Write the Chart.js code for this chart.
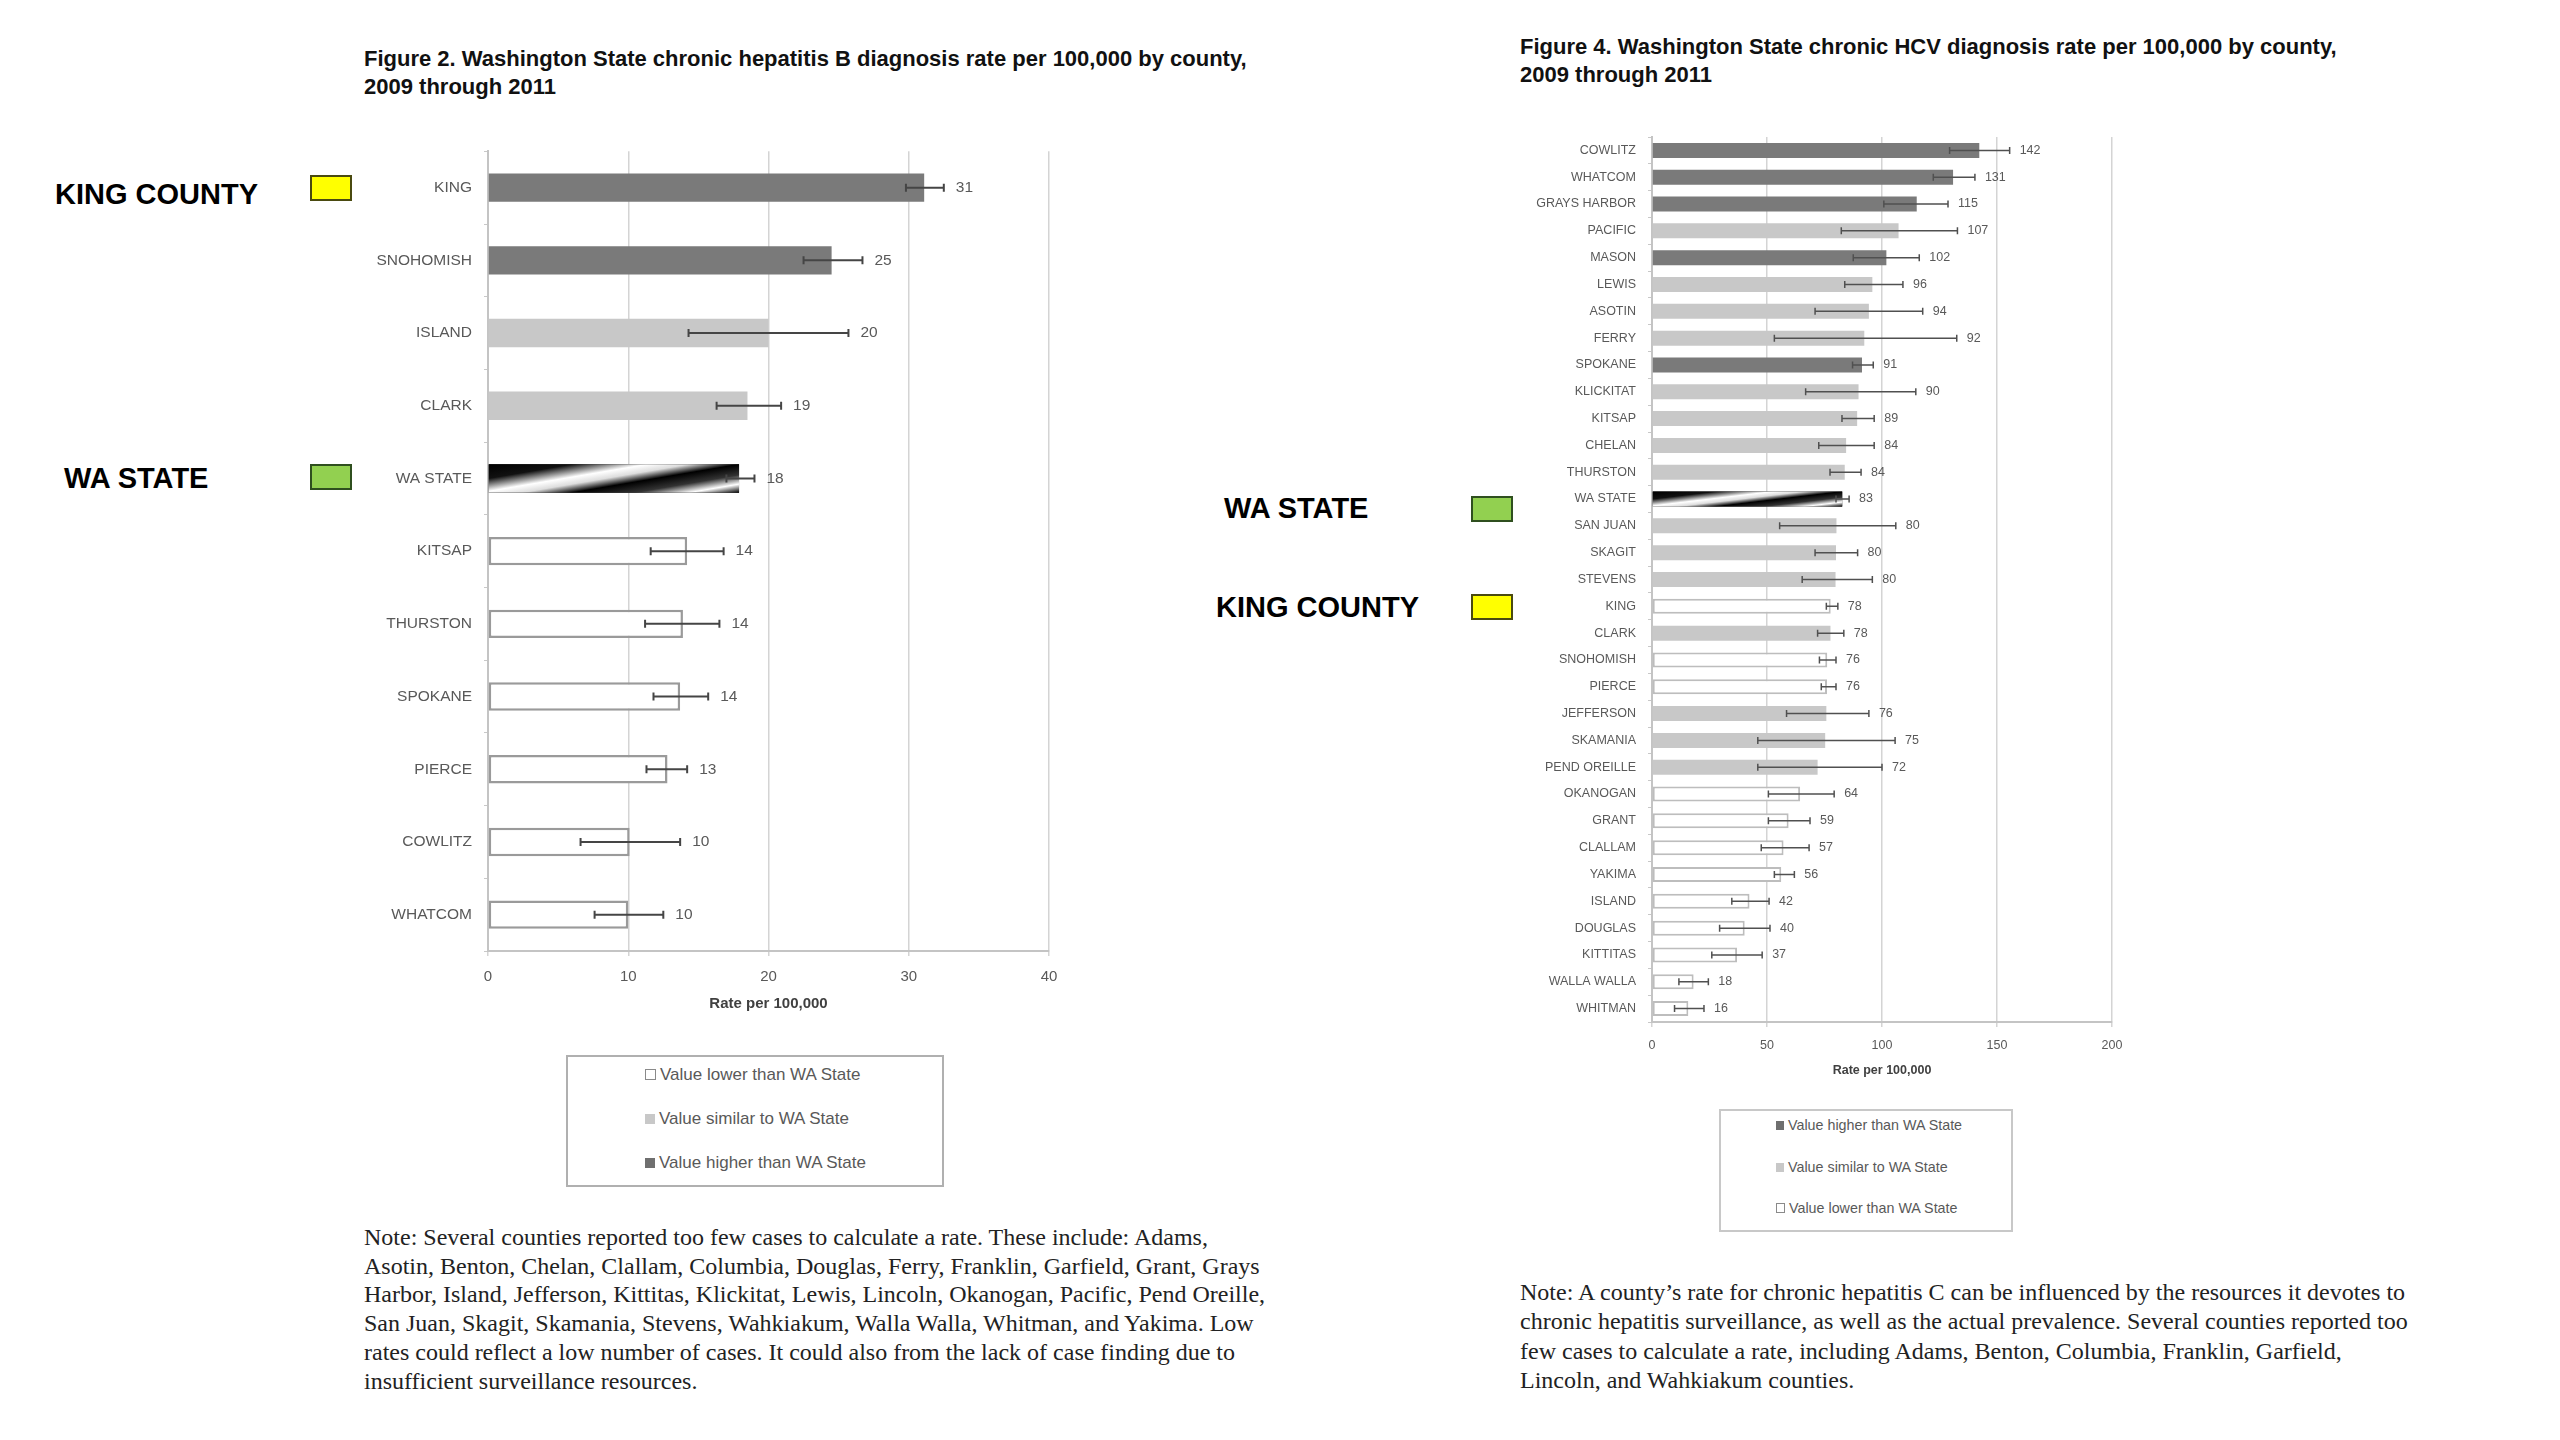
<!DOCTYPE html>
<html>
<head>
<meta charset="utf-8">
<script src="https://cdn.jsdelivr.net/npm/chart.js@4.4.1/dist/chart.umd.min.js"></script>
<style>
  body { margin: 0; background: #fff; }
  #page { position: relative; width: 2560px; height: 1440px; background: #fff; overflow: hidden; font-family: "Liberation Sans", Arial, sans-serif; }
  canvas { position: absolute; }
  .title { position: absolute; font-weight: bold; font-size: 22px; line-height: 28px; color: #111; white-space: nowrap; }
  .note { position: absolute; font-family: "Liberation Serif", "Times New Roman", serif; font-size: 24px; color: #222; white-space: nowrap; }
  .tag { position: absolute; font-weight: bold; font-size: 29px; line-height: 32px; color: #000; white-space: nowrap; }
  .swatch { position: absolute; width: 38px; height: 22px; border: 2px solid #333; }
  .legbox { position: absolute; border: 2px solid #b0b0b0; background: #fff; }
  .legitem { position: absolute; color: #595959; white-space: nowrap; }
  .legitem i { display: inline-block; vertical-align: middle; margin-right: 4px; position: relative; top: -1px; }
</style>
</head>
<body>
<div id="page">
  <div class="title" style="left:364px; top:45px;">Figure 2. Washington State chronic hepatitis B diagnosis rate per 100,000 by county,<br>2009 through 2011</div>
  <div class="title" style="left:1520px; top:33px;">Figure 4. Washington State chronic HCV diagnosis rate per 100,000 by county,<br>2009 through 2011</div>

  <div class="tag" style="left:55px; top:178px;">KING COUNTY</div>
  <div class="swatch" style="left:310px; top:175px; background:#ffff00; border-color:#4a4a10;"></div>
  <div class="tag" style="left:64px; top:462px;">WA STATE</div>
  <div class="swatch" style="left:310px; top:464px; background:#92d050; border-color:#2f4f1f;"></div>

  <div class="tag" style="left:1224px; top:492px;">WA STATE</div>
  <div class="swatch" style="left:1471px; top:496px; background:#92d050; border-color:#2f4f1f;"></div>
  <div class="tag" style="left:1216px; top:591px;">KING COUNTY</div>
  <div class="swatch" style="left:1471px; top:594px; background:#ffff00; border-color:#4a4a10;"></div>

  <canvas id="hepb" width="800" height="887" style="left:300px; top:130px;"></canvas>
  <canvas id="hcv" width="772" height="972" style="left:1400px; top:110px;"></canvas>

  <div class="legbox" style="left:566px; top:1055px; width:374px; height:128px;"></div>
  <div class="legitem" style="left:645px; top:1065px; font-size:17px;"><i style="width:9px;height:9px;border:1px solid #8a8a8a;background:#fff;"></i>Value lower than WA State</div>
  <div class="legitem" style="left:645px; top:1109px; font-size:17px;"><i style="width:10px;height:10px;background:#c8c8c8;"></i>Value similar to WA State</div>
  <div class="legitem" style="left:645px; top:1153px; font-size:17px;"><i style="width:10px;height:10px;background:#6f6f6f;"></i>Value higher than WA State</div>

  <div class="legbox" style="left:1719px; top:1109px; width:290px; height:119px; border-color:#c8c8c8;"></div>
  <div class="legitem" style="left:1776px; top:1117px; font-size:14.3px;"><i style="width:8px;height:9px;background:#6f6f6f;"></i>Value higher than WA State</div>
  <div class="legitem" style="left:1776px; top:1159px; font-size:14.3px;"><i style="width:8px;height:9px;background:#c8c8c8;"></i>Value similar to WA State</div>
  <div class="legitem" style="left:1776px; top:1200px; font-size:14.3px;"><i style="width:7px;height:8px;border:1px solid #8a8a8a;background:#fff;"></i>Value lower than WA State</div>

  <div class="note" style="left:364px; top:1223px; line-height:28.7px;">Note: Several counties reported too few cases to calculate a rate. These include: Adams,<br>Asotin, Benton, Chelan, Clallam, Columbia, Douglas, Ferry, Franklin, Garfield, Grant, Grays<br>Harbor, Island, Jefferson, Kittitas, Klickitat, Lewis, Lincoln, Okanogan, Pacific, Pend Oreille,<br>San Juan, Skagit, Skamania, Stevens, Wahkiakum, Walla Walla, Whitman, and Yakima. Low<br>rates could reflect a low number of cases. It could also from the lack of case finding due to<br>insufficient surveillance resources.</div>
  <div class="note" style="left:1520px; top:1278px; line-height:29.4px;">Note: A county’s rate for chronic hepatitis C can be influenced by the resources it devotes to<br>chronic hepatitis surveillance, as well as the actual prevalence. Several counties reported too<br>few cases to calculate a rate, including Adams, Benton, Columbia, Franklin, Garfield,<br>Lincoln, and Wahkiakum counties.</div>
</div>

<script>
// Figure 2: chronic hepatitis B
const hbCounties = ['KING', 'SNOHOMISH', 'ISLAND', 'CLARK', 'WA STATE', 'KITSAP', 'THURSTON', 'SPOKANE', 'PIERCE', 'COWLITZ', 'WHATCOM'];
const hbRates = [31.1, 24.5, 20.0, 18.5, 17.9, 14.2, 13.9, 13.7, 12.8, 10.1, 10.0];
const hbLow   = [29.8, 22.5, 14.3, 16.3, 17.0, 11.6, 11.2, 11.8, 11.3, 6.6, 7.6];
const hbHigh  = [32.5, 26.7, 25.7, 20.9, 19.0, 16.8, 16.5, 15.7, 14.2, 13.7, 12.5];
const hbGroups = ['higher', 'higher', 'similar', 'similar', 'state', 'lower', 'lower', 'lower', 'lower', 'lower', 'lower'];
const hbTicks = [0, 10, 20, 30, 40];

// Figure 4: chronic HCV
const hcvCounties = ['COWLITZ', 'WHATCOM', 'GRAYS HARBOR', 'PACIFIC', 'MASON', 'LEWIS', 'ASOTIN', 'FERRY', 'SPOKANE', 'KLICKITAT', 'KITSAP',
  'CHELAN', 'THURSTON', 'WA STATE', 'SAN JUAN', 'SKAGIT', 'STEVENS', 'KING', 'CLARK', 'SNOHOMISH', 'PIERCE', 'JEFFERSON', 'SKAMANIA',
  'PEND OREILLE', 'OKANOGAN', 'GRANT', 'CLALLAM', 'YAKIMA', 'ISLAND', 'DOUGLAS', 'KITTITAS', 'WALLA WALLA', 'WHITMAN'];
const hcvRates = [142.3, 130.9, 115.1, 107.2, 101.9, 95.8, 94.3, 92.3, 91.3, 89.8, 89.2,
  84.4, 83.8, 82.7, 80.2, 80.0, 79.8, 77.7, 77.6, 76.2, 76.1, 75.8, 75.3,
  72.0, 64.4, 59.4, 57.2, 56.2, 42.4, 40.3, 37.0, 18.1, 15.8];
const hcvLow = [129.4, 122.3, 100.8, 82.3, 87.5, 83.8, 70.9, 53.2, 87.2, 66.8, 82.6,
  72.5, 77.4, 80.0, 55.5, 70.9, 65.3, 75.8, 72.0, 72.8, 73.6, 58.5, 46.0,
  46.0, 50.6, 50.6, 47.5, 53.2, 34.7, 29.4, 26.0, 11.7, 9.8];
const hcvHigh = [155.5, 140.4, 128.7, 132.8, 116.2, 109.1, 117.7, 132.5, 96.2, 114.7, 96.6,
  96.6, 90.9, 85.7, 106.0, 89.4, 95.8, 80.8, 83.4, 80.0, 80.0, 94.3, 105.7,
  100.0, 79.2, 68.7, 68.3, 61.9, 50.9, 51.3, 47.9, 24.5, 22.6];
const hcvGroups = ['higher', 'higher', 'higher', 'similar', 'higher', 'similar', 'similar', 'similar', 'higher', 'similar', 'similar',
  'similar', 'similar', 'state', 'similar', 'similar', 'similar', 'lower', 'similar', 'lower', 'lower', 'similar', 'similar',
  'similar', 'lower', 'lower', 'lower', 'lower', 'lower', 'lower', 'lower', 'lower', 'lower'];
const hcvTicks = [0, 50, 100, 150, 200];

const groupFill = { higher: '#7a7a7a', similar: '#c8c8c8', lower: '#ffffff', state: '#000000' };
const labelGray = '#595959';

// black/white swirl used for the WA STATE bar
function paintState(ctx, bar) {
  const x0 = Math.min(bar.base, bar.x), w = Math.abs(bar.x - bar.base), h = bar.height, top = bar.y - h / 2;
  const k = 2.5 * h * w / (2.25 * h * h + w * w);
  const g = ctx.createLinearGradient(x0, top, x0 + 1.5 * h * k, top + w * k);
  g.addColorStop(0, '#000');
  g.addColorStop(0.2, '#111');
  g.addColorStop(0.38, '#fff');
  g.addColorStop(0.48, '#ddd');
  g.addColorStop(0.6, '#000');
  g.addColorStop(0.75, '#333');
  g.addColorStop(0.88, '#fff');
  g.addColorStop(1, '#000');
  ctx.fillStyle = g;
  ctx.fillRect(x0, top, w, h);
}

// error bars + value labels, placed with the chart's own x scale
const barExtras = {
  id: 'barExtras',
  afterDatasetsDraw(chart, args, opts) {
    const ds = chart.data.datasets[0];
    const meta = chart.getDatasetMeta(0);
    const xs = chart.scales.x;
    const ctx = chart.ctx;
    meta.data.forEach((bar, i) => {
      ctx.save();
      if (ds.groups[i] === 'state') paintState(ctx, bar);
      const lo = xs.getPixelForValue(ds.errLow[i]);
      const hi = xs.getPixelForValue(ds.errHigh[i]);
      const y = bar.y;
      ctx.strokeStyle = opts.color;
      ctx.lineWidth = opts.width;
      ctx.beginPath();
      ctx.moveTo(lo, y); ctx.lineTo(hi, y);
      ctx.moveTo(lo, y - opts.cap); ctx.lineTo(lo, y + opts.cap);
      ctx.moveTo(hi, y - opts.cap); ctx.lineTo(hi, y + opts.cap);
      ctx.stroke();
      ctx.fillStyle = labelGray;
      ctx.font = opts.font;
      ctx.textBaseline = 'middle';
      ctx.fillText(String(Math.round(ds.data[i])), hi + opts.gap, y);
      ctx.restore();
    });
  }
};

function makeChart(id, cfg) {
  return new Chart(document.getElementById(id).getContext('2d'), {
    type: 'bar',
    data: {
      labels: cfg.labels,
      datasets: [{
        data: cfg.values,
        errLow: cfg.low,
        errHigh: cfg.high,
        groups: cfg.groups,
        backgroundColor: cfg.groups.map(g => groupFill[g]),
        borderColor: cfg.border,
        borderWidth: cfg.groups.map(g => g === 'lower' ? cfg.borderWidth : 0),
        borderSkipped: false,
        categoryPercentage: 1,
        barPercentage: cfg.barPct
      }]
    },
    options: {
      indexAxis: 'y',
      responsive: false,
      animation: false,
      devicePixelRatio: 1,
      layout: { padding: cfg.padding },
      plugins: {
        legend: { display: false },
        tooltip: { enabled: false },
        barExtras: cfg.extras
      },
      scales: {
        x: {
          min: cfg.ticks[0],
          max: cfg.ticks[cfg.ticks.length - 1],
          ticks: { stepSize: cfg.ticks[1] - cfg.ticks[0], color: labelGray, padding: cfg.tickPad,
            font: { family: 'Liberation Sans', size: cfg.tickSize } },
          grid: { color: '#d4d4d4', lineWidth: 1.5, tickLength: 5 },
          border: { color: '#c4c4c4', width: 2 },
          title: { display: true, text: 'Rate per 100,000', color: '#404040',
            font: { family: 'Liberation Sans', size: cfg.tickSize, weight: 'bold' } },
          afterFit(s) { s.height = cfg.xHeight; }
        },
        y: {
          ticks: { color: labelGray, padding: 12, font: { family: 'Liberation Sans', size: cfg.catSize } },
          grid: { drawOnChartArea: false, tickLength: 4, color: '#c8c8c8' },
          border: { color: '#c4c4c4', width: 2 },
          afterFit(s) { s.width = cfg.yWidth; }
        }
      }
    },
    plugins: [barExtras]
  });
}

makeChart('hepb', {
  labels: hbCounties, values: hbRates, low: hbLow, high: hbHigh, groups: hbGroups, ticks: hbTicks,
  border: '#9a9a9a', borderWidth: 2.5, barPct: 0.39,
  padding: { left: 0, top: 21, right: 51, bottom: 0 },
  yWidth: 188, xHeight: 66, tickSize: 15, catSize: 15.5, tickPad: 12,
  extras: { color: '#454545', width: 2, cap: 4, gap: 12, font: '15.5px "Liberation Sans"' }
});

makeChart('hcv', {
  labels: hcvCounties, values: hcvRates, low: hcvLow, high: hcvHigh, groups: hcvGroups, ticks: hcvTicks,
  border: '#bdbdbd', borderWidth: 2, barPct: 0.56,
  padding: { left: 0, top: 27, right: 60, bottom: 0 },
  yWidth: 252, xHeight: 60, tickSize: 12.5, catSize: 12.5, tickPad: 11,
  extras: { color: '#505050', width: 1.5, cap: 3.5, gap: 10, font: '12.5px "Liberation Sans"' }
});
</script>
</body>
</html>
